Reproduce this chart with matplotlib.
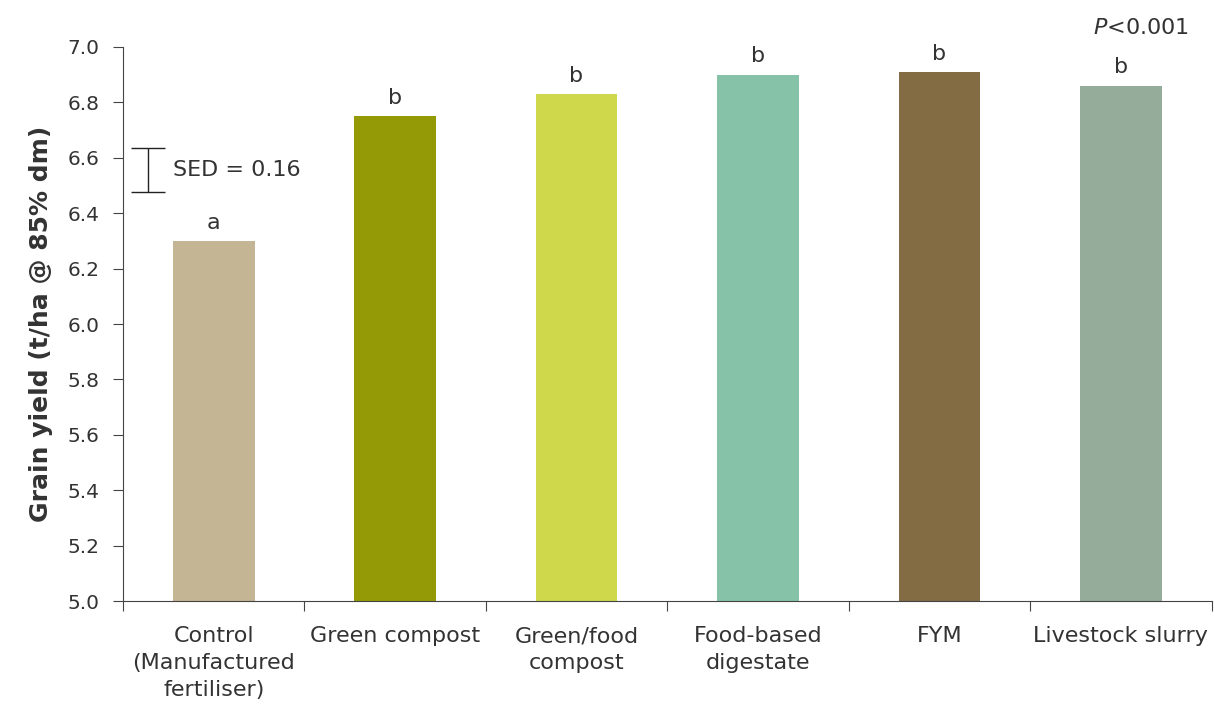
import numpy as np
import matplotlib.pyplot as plt

categories = ["Control\n(Manufactured\nfertiliser)", "Green compost", "Green/food\ncompost",
              "Food-based\ndigestate", "FYM", "Livestock slurry"]
yields = [6.30, 6.75, 6.83, 6.90, 6.91, 6.86]
letters = ["a", "b", "b", "b", "b", "b"]
colors = ["#C4B594", "#949A05", "#CFD74B", "#85C2A8", "#836C44", "#96AC9A"]
sed = 0.16

plt.rcParams['font.family'] = ['DejaVu Sans']
txt = '#333333'

fig = plt.figure(figsize=(12.14, 7.11), dpi=100)
ax = fig.add_axes([0.1013, 0.1547, 0.8967, 0.7792])

x = np.arange(len(categories))
ax.bar(x, [v - 5.0 for v in yields], bottom=5.0, width=0.45, color=colors)

for xi, v, l in zip(x, yields, letters):
    ax.text(xi, v + 0.03, l, ha='center', va='bottom', fontsize=16, color=txt)

# SED bar
ax.errorbar(-0.364, 6.555, yerr=sed / 2, color='#222222', linewidth=1, capsize=12.5, capthick=1)
ax.text(-0.225, 6.555, "SED = 0.16", ha='left', va='center', fontsize=16, color=txt)

ax.text(5.11, 7.07, "$\\it{P}$<0.001", ha='center', va='center', fontsize=16, color=txt,
        clip_on=False)

ax.set_xlim(-0.5, 5.5)
ax.set_ylim(5.0, 7.0)
ax.set_yticks(np.arange(5.0, 7.01, 0.2))
ax.set_yticklabels([f"{t:.1f}" for t in np.arange(5.0, 7.01, 0.2)], fontsize=14.5, color=txt)
ax.set_xticks(np.arange(-0.5, 5.6, 1.0))
ax.set_xticklabels([])
ax.set_xticks(x, minor=True)
ax.set_xticklabels(categories, minor=True, fontsize=16, color=txt, linespacing=1.45)
ax.tick_params(axis='x', which='minor', length=0, pad=18)
ax.tick_params(axis='x', which='major', length=7, direction='out', color='#444444')
ax.tick_params(axis='y', length=7, direction='out', color='#444444', pad=10)
for s in ['top', 'right']:
    ax.spines[s].set_visible(False)
for s in ['left', 'bottom']:
    ax.spines[s].set_color('#444444')
ax.set_ylabel("Grain yield (t/ha @ 85% dm)", fontsize=18, fontweight='bold', color=txt, labelpad=10)

fig.savefig("out.png", dpi=100)
